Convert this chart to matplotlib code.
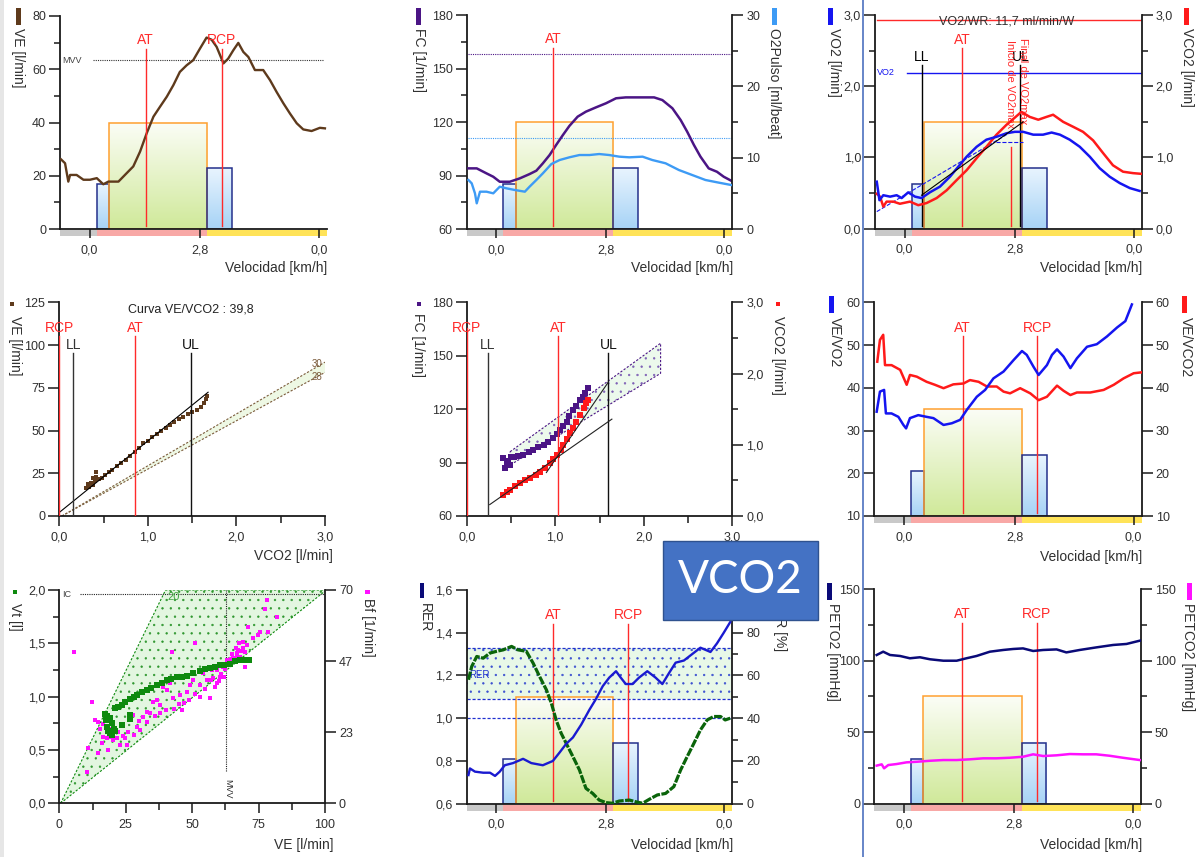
import matplotlib
matplotlib.use("Agg")
import matplotlib.pyplot as plt
import matplotlib.transforms as mtrans
from matplotlib.patches import Rectangle, Polygon
from matplotlib.colors import LinearSegmentedColormap
import numpy as np

plt.rcParams['font.family'] = ['Liberation Sans', 'DejaVu Sans']
plt.rcParams['hatch.linewidth'] = 0.45

# ---------------- data ----------------
time_ticks = [0.0, 3.72, 7.73]
time_tick_labels = ['0,0', '2,8', '0,0']
phase_edges = [-1.0, 0.24, 3.97, 8.0]
stage_edges = [0.24, 0.66, 3.97, 4.81]
stage_heights = [0.21, 0.50, 0.285]

# Panel 1: VE
ve_t = [-0.97,-0.83,-0.72,-0.66,-0.44,-0.21,0.01,0.24,0.46,0.63,0.97,1.25,1.47,1.70,1.92,2.15,2.37,2.60,2.82,3.04,
        3.27,3.49,3.72,3.94,4.11,4.28,4.51,4.67,4.84,5.01,5.18,5.35,5.57,5.85,6.08,6.30,6.53,6.75,6.98,7.20,7.48,7.76,7.93]
ve = [26.2,24.7,17.8,20.3,20.3,18.5,18.5,19.1,16.8,17.8,17.8,21.0,23.5,29.1,35.9,42.2,45.9,49.7,54.0,59.0,
      61.5,63.4,67.8,71.9,71.1,68.4,62.2,64.0,67.1,69.9,66.5,64.6,59.7,59.7,55.9,51.5,47.2,43.4,39.7,37.4,36.8,38.0,37.8]
mvv_value = 63.3

# Panel 2: FC and O2 pulse
fc_t = [-0.94,-0.66,-0.33,-0.10,0.12,0.46,0.80,1.13,1.36,1.58,1.81,2.03,2.26,2.48,2.76,3.04,3.38,3.72,4.06,4.39,
        4.84,5.35,5.63,5.97,6.25,6.47,6.70,6.92,7.20,7.48,7.71,7.96]
fc = [94.0,94.0,91.2,89.3,86.5,86.5,88.4,90.8,92.7,96.8,101.5,107.1,112.7,117.8,123.0,125.8,128.2,130.5,133.3,133.8,
      133.8,133.8,132.3,127.7,121.1,114.6,107.1,100.6,94.0,92.1,89.3,87.1]
o2p_t = [-0.94,-0.83,-0.72,-0.66,-0.55,-0.33,-0.10,0.12,0.35,0.63,0.97,1.13,1.36,1.58,1.87,2.15,2.48,2.82,3.16,3.49,
         3.83,4.17,4.51,4.96,5.29,5.74,6.19,6.64,7.09,7.54,7.96]
o2p = [6.87,6.40,5.0,3.6,5.23,5.23,5.0,5.93,5.70,5.47,5.23,5.93,6.87,7.80,9.11,9.67,10.05,10.37,10.37,10.51,
       10.37,10.14,10.05,10.14,9.67,9.21,8.27,7.57,6.87,6.50,6.17]
fc_ref = 157.9
o2p_ref = 110.8

# Panel 3: VO2 / VCO2
vo2_t = [-0.94,-0.85,-0.72,-0.49,-0.27,-0.10,0.12,0.35,0.57,0.85,1.19,1.53,1.81,2.09,2.43,2.76,3.10,3.44,3.72,4.00,
         4.34,4.67,4.96,5.24,5.57,5.91,6.25,6.58,6.92,7.26,7.60,7.93]
vo2 = [0.66,0.40,0.47,0.45,0.47,0.43,0.51,0.45,0.43,0.51,0.59,0.73,0.87,1.01,1.15,1.25,1.29,1.34,1.36,1.36,
       1.32,1.32,1.35,1.32,1.25,1.15,1.01,0.85,0.73,0.64,0.57,0.53]
vco2_t = [-0.94,-0.83,-0.72,-0.61,-0.38,-0.16,0.18,0.46,0.74,1.08,1.42,1.75,2.09,2.43,2.76,3.10,3.44,3.72,3.94,4.22,
          4.51,4.79,5.01,5.35,5.69,6.02,6.36,6.70,7.03,7.37,7.71,7.99]
vco2 = [0.49,0.45,0.31,0.38,0.38,0.35,0.38,0.33,0.36,0.43,0.54,0.68,0.82,0.99,1.15,1.32,1.46,1.56,1.64,1.57,
        1.53,1.57,1.60,1.50,1.43,1.36,1.24,1.06,0.89,0.80,0.78,0.77]
vo2_pred = 2.19
wr_line = 2.93

# Panel 4: VE vs VCO2
p4_vco2 = [0.30,0.32,0.34,0.36,0.38,0.38,0.40,0.40,0.42,0.42,0.45,0.48,0.52,0.56,0.60,0.65,0.70,0.75,0.80,0.85,
           0.90,0.95,1.00,1.05,1.10,1.15,1.20,1.25,1.30,1.35,1.40,1.45,1.50,1.55,1.60,1.63,1.66,1.67]
p4_ve = [16.5,18.5,17.0,19.5,18.0,22.5,20.5,22.5,23.0,25.5,21.5,22.5,24.0,25.5,27.0,29.0,31.0,33.0,35.0,37.5,
         39.5,42.5,44.0,46.0,48.0,50.0,51.5,53.5,55.0,56.5,58.0,59.5,61.0,62.0,64.0,66.0,68.5,70.0]

# Panel 5: FC and VCO2 vs VO2
p5_x_fc = [0.43,0.45,0.41,0.47,0.49,0.50,0.53,0.58,0.64,0.70,0.75,0.80,0.87,0.92,0.98,1.02,1.05,1.09,1.13,1.16,
           1.20,1.24,1.28,1.31,1.34,1.37]
p5_fc = [86.8,89.0,92.4,91.0,88.6,93.0,93.3,93.8,94.3,95.8,97.1,98.5,99.9,101.5,103.6,106.0,108.3,110.5,113.0,116.0,
         119.5,122.0,125.1,127.0,128.9,131.7]
p5_x_vco2 = [0.41,0.45,0.49,0.55,0.60,0.66,0.72,0.78,0.83,0.89,0.94,0.98,1.02,1.06,1.09,1.13,1.17,1.20,1.24,1.28,
             1.32,1.35,1.37]
p5_vco2 = [0.29,0.33,0.37,0.42,0.46,0.50,0.53,0.58,0.62,0.68,0.74,0.80,0.86,0.93,1.00,1.08,1.16,1.24,1.32,1.42,
           1.51,1.58,1.63]

# Panel 6: ventilatory equivalents
eqo2_t = [-0.92,-0.81,-0.67,-0.61,-0.42,-0.19,-0.02,0.07,0.20,0.48,0.76,0.99,1.33,1.61,1.89,2.11,2.45,2.73,3.01,3.35,
          3.69,3.97,4.13,4.36,4.53,4.81,4.98,5.15,5.37,5.60,5.82,6.16,6.49,6.83,7.17,7.45,7.67]
eqo2 = [34.4,39.1,39.5,34.0,34.0,33.2,31.3,30.5,32.9,33.6,33.2,32.9,31.3,31.7,32.5,34.8,37.9,39.5,42.2,43.8,
        46.5,48.6,47.7,44.9,43.0,45.3,47.7,49.0,47.3,44.6,46.9,49.6,50.2,52.0,54.1,55.6,59.5]
eqco2_t = [-0.90,-0.81,-0.70,-0.64,-0.42,-0.13,0.09,0.20,0.43,0.76,1.04,1.33,1.66,2.00,2.22,2.51,2.79,3.12,3.35,3.57,
           3.91,4.25,4.53,4.81,5.15,5.37,5.60,5.82,6.27,6.72,7.06,7.39,7.73,7.98]
eqco2 = [46.1,51.2,52.4,45.3,45.3,44.2,40.7,43.0,42.6,41.4,40.7,39.9,40.8,41.0,41.8,41.4,40.3,40.3,39.1,38.7,
         39.9,38.7,37.1,37.9,40.5,39.3,38.3,38.9,38.9,39.5,40.7,42.2,43.4,43.6]

# Panel 7: Vt and Bf vs VE
vt_ve = [17.2,17.5,17.8,18.5,19.1,19.7,20.5,21.0,19.0,18.0,22.0,23.5,24.7,26.6,28.0,29.1,31.0,32.9,34.5,36.6,
         38.5,40.4,42.0,44.2,46.0,47.9,50.4,52.9,55.0,56.7,58.5,60.5,62.0,64.2,66.0,68.0,70.0,71.5,23.5,26.6,
         26.6,20.0,21.0]
vt = [0.84,0.78,0.72,0.68,0.66,0.75,0.70,0.89,0.80,0.82,0.90,0.92,0.95,0.98,1.00,1.02,1.04,1.06,1.08,1.11,
      1.13,1.16,1.17,1.18,1.18,1.19,1.22,1.24,1.26,1.27,1.28,1.30,1.30,1.31,1.33,1.34,1.34,1.34,0.73,0.83,
      0.79,0.64,0.68]
bf_ve = [5.5,12.2,10.9,10.3,13.4,14.7,15.3,15.9,14.7,16.6,17.8,19.1,20.3,21.6,22.8,24.7,25.3,27.9,29.1,30.4,
         31.6,32.9,34.1,35.4,36.6,37.9,39.1,40.4,41.7,42.3,42.9,45.4,46.0,47.9,49.2,50.4,51.1,52.9,54.2,55.5,
         56.7,57.3,58.6,59.2,60.5,61.7,63.0,64.2,65.5,66.7,67.4,68.0,69.3,70.5,69.9,71.1,73.0,74.9,75.5,77.4,
         78.0,78.7,81.8,61.0,62.5,63.5,64.8,66.0,67.0,68.5,60.0,58.0,57.0,62.0,59.5,65.0,66.5,67.8,69.0,70.0,
         55.0,53.0,51.0,49.0,47.0,45.0,43.0,40.0,38.0,36.0,33.0,30.0,28.0,26.0,24.0,22.0,20.0,18.5,16.5]
bf = [49.8,33.4,18.0,10.4,27.3,26.8,24.3,19.7,16.4,21.9,21.3,21.9,20.8,21.3,19.1,21.3,19.1,29.0,25.2,24.1,
      28.4,26.8,29.5,33.4,33.9,32.3,38.3,37.2,39.4,49.8,34.5,35.5,30.6,36.6,38.8,40.5,52.5,38.8,42.7,40.5,
      34.5,43.8,38.3,43.8,41.6,44.8,47.0,45.4,47.6,49.2,50.3,48.1,50.9,51.9,44.8,58.0,54.1,55.2,56.3,63.7,
      66.7,56.3,61.3,42.5,44.0,46.0,47.5,46.5,48.5,50.0,40.0,41.0,40.5,41.5,39.5,49.0,51.0,52.5,53.0,49.5,
      37.5,35.0,36.0,34.0,33.0,32.5,31.0,30.5,29.5,28.5,30.0,27.0,22.5,23.5,22.0,23.5,24.5,17.5,26.0]
ic_value = 1.96
mvv_ve = 62.7

# Panel 8: RER and BR
rer_t = [-0.94,-0.89,-0.72,-0.44,-0.21,-0.04,0.12,0.29,0.57,0.91,1.19,1.58,1.92,2.15,2.37,2.60,2.88,3.16,3.38,3.61,
         3.83,4.06,4.22,4.39,4.62,4.84,5.12,5.40,5.63,5.85,6.08,6.36,6.64,6.92,7.26,7.48,7.71,7.93]
rer = [0.734,0.765,0.75,0.745,0.745,0.73,0.75,0.78,0.79,0.81,0.79,0.78,0.80,0.84,0.88,0.91,0.97,1.04,1.09,1.15,
       1.19,1.22,1.19,1.16,1.16,1.19,1.22,1.19,1.16,1.21,1.26,1.27,1.30,1.33,1.31,1.35,1.40,1.45]
br_t = [-0.94,-0.83,-0.66,-0.44,-0.21,0.01,0.24,0.52,0.74,1.02,1.25,1.47,1.70,1.87,2.03,2.20,2.37,2.60,2.82,3.04,
        3.27,3.49,3.72,3.94,4.17,4.51,4.73,4.96,5.18,5.46,5.74,6.02,6.25,6.47,6.70,6.92,7.15,7.37,7.60,7.76,7.93]
br = [58.0,64.2,68.9,68.1,70.5,71.3,72.0,73.6,72.0,71.3,65.8,59.5,53.3,47.0,39.2,33.0,28.3,22.0,15.8,7.2,
      4.8,1.7,0.5,0.2,1.25,1.7,0.9,0.2,2.0,4.1,4.8,8.0,15.8,22.0,28.3,34.5,39.2,40.8,40.8,39.2,40.0]
rer_band = [1.09, 1.33]

# Panel 9: end-tidal pressures
peto2_t = [-0.92,-0.70,-0.47,-0.13,0.20,0.54,0.88,1.33,1.78,2.11,2.45,2.90,3.35,3.69,4.02,4.36,4.70,5.15,5.48,5.93,
           6.49,7.06,7.51,7.96]
peto2 = [103.9,106.2,103.9,103.2,101.6,102.3,100.9,99.9,99.9,101.6,103.2,106.2,107.4,108.1,108.5,106.7,107.4,107.8,105.7,107.4,
         109.2,110.9,111.6,113.9]
petco2_t = [-0.92,-0.75,-0.67,-0.53,-0.25,0.09,0.43,0.88,1.33,1.78,2.22,2.67,3.12,3.57,4.02,4.36,4.70,5.15,5.60,6.04,
            6.49,6.94,7.39,7.96]
petco2 = [26.6,27.5,24.7,27.0,27.7,28.9,29.3,30.0,30.5,30.5,31.0,31.7,31.7,32.1,32.8,34.5,33.3,33.8,34.7,34.5,
          34.5,33.5,32.1,30.5]

# ---------------- style ----------------
W, H = 1204, 857
fig = plt.figure(figsize=(W / 100, H / 100), dpi=100)
TXT = '#303030'
SP = '#1a1a1a'
RED = '#FF2A2A'
BROWN = '#5E3A1C'
PURPLE = '#4B1585'
LBLUE = '#3D9BF5'
BLUE = '#1515F0'
NAVY = '#0A0A78'
GREEN = '#0E8A0E'
DGREEN = '#0A640A'
MAG = '#FF10FF'
phase_colors = ['#C9C9C9', '#F8A8A6', '#FFE358']
grad = np.linspace(0, 1, 64).reshape(-1, 1)
cmap_green = LinearSegmentedColormap.from_list('g', ['#FBFDF6', '#D0E99A'])
cmap_blue = LinearSegmentedColormap.from_list('b', ['#E8F4FE', '#A7D3F6'])


def add_ax(L, R, T, B):
    return fig.add_axes([L / W, 1 - B / H, (R - L) / W, (B - T) / H])


def blend(ax):
    return mtrans.blended_transform_factory(ax.transData, ax.transAxes)


def spines(ax, left=True, right=False, bottom=True):
    ax.spines['top'].set_visible(False)
    ax.spines['left'].set_visible(left)
    ax.spines['right'].set_visible(right)
    ax.spines['bottom'].set_visible(bottom)
    for s in ax.spines.values():
        s.set_linewidth(1.3)
        s.set_color(SP)


def yaxis(ax, ylim, major, labels, minor=None):
    ax.set_ylim(*ylim)
    ax.set_yticks(major)
    ax.set_yticklabels(labels)
    if minor is not None:
        ax.set_yticks(minor, minor=True)
    ax.tick_params(axis='y', which='major', length=8, width=1.1, labelsize=9, pad=2,
                   color=SP, labelcolor=TXT)
    ax.tick_params(axis='y', which='minor', length=4.5, width=1.1, color=SP)


def time_decor(ax, ylim):
    tr = blend(ax)
    for i in range(3):
        ax.add_patch(Rectangle((phase_edges[i], -0.033), phase_edges[i + 1] - phase_edges[i], 0.028,
                               transform=tr, facecolor=phase_colors[i], lw=0, clip_on=False, zorder=0.5))
    y0, y1 = ylim
    cms = [cmap_blue, cmap_green, cmap_blue]
    ecs = ['#24308C', '#FFA030', '#24308C']
    for i in range(3):
        xa, xb = stage_edges[i], stage_edges[i + 1]
        top = y0 + stage_heights[i] * (y1 - y0)
        ax.imshow(grad, extent=(xa, xb, y0, top), aspect='auto', cmap=cms[i], origin='upper',
                  zorder=1, interpolation='bilinear')
        ax.add_patch(Rectangle((xa, y0), xb - xa, top - y0, fill=False, edgecolor=ecs[i], lw=1.1, zorder=1.5))
    ax.set_xlim(-1, 8)
    ax.set_ylim(*ylim)
    ax.set_xticks(time_ticks)
    ax.set_xticklabels(time_tick_labels)
    ax.tick_params(axis='x', length=6.5, width=1.1, pad=4.5, labelsize=9, color=SP, labelcolor=TXT)


def vmark(ax, x, label, color, line_top, text_y, bottom=0.012, lw=1.0):
    tr = blend(ax)
    ax.plot([x, x], [bottom, line_top], transform=tr, color=color, lw=lw, zorder=6)
    ax.text(x, text_y, label, transform=tr, color=color, ha='center', va='center', fontsize=10, zorder=7)


def ylab(x, ytop, s, fs=10, color=TXT):
    fig.text(x / W, 1 - ytop / H, s, rotation=270, ha='center', va='top', fontsize=fs, color=color)


def xlab(xr, yc, s):
    fig.text(xr / W, 1 - yc / H, s, ha='right', va='center', fontsize=10, color=TXT)


def mark(x0, y0, x1, y1, color):
    fig.add_artist(Rectangle((x0 / W, 1 - y1 / H), (x1 - x0) / W, (y1 - y0) / H,
                             transform=fig.transFigure, facecolor=color, lw=0))


def comma(vals, fmt='{:.1f}'):
    return [fmt.format(v).replace('.', ',') for v in vals]


def dotted_region(ax, verts, face, dot, edge, lw=0.8):
    ax.add_patch(Polygon(verts, closed=True, facecolor=face, edgecolor='none', zorder=1))
    ax.add_patch(Polygon(verts, closed=True, fill=False, hatch='..', edgecolor=dot, lw=0, zorder=1.2))
    ax.add_patch(Polygon(verts, closed=True, fill=False, edgecolor=edge, lw=lw, ls=(0, (2, 1.5)), zorder=1.4))


# ---------------- Panel 1 ----------------
ax = add_ax(60, 327, 16, 229)
spines(ax)
yaxis(ax, (0, 80), [0, 20, 40, 60, 80], ['0', '20', '40', '60', '80'], [10, 30, 50, 70])
time_decor(ax, (0, 80))
ax.plot(ve_t, ve, color=BROWN, lw=1.7, zorder=4)
ax.plot([0.10, 7.88], [mvv_value, mvv_value], color='#333', lw=0.8, ls=(0, (1, 1)), zorder=3)
ax.text(-0.94, mvv_value, 'MVV', fontsize=6.5, color='#444', va='center', ha='left')
vmark(ax, 1.89, 'AT', RED, 0.845, 0.886)
vmark(ax, 4.45, 'RCP', RED, 0.845, 0.886)

# ---------------- Panel 2 ----------------
ax = add_ax(466.7, 732.3, 15, 229)
spines(ax)
yaxis(ax, (60, 180), [60, 90, 120, 150, 180], ['60', '90', '120', '150', '180'], [75, 105, 135, 165])
time_decor(ax, (60, 180))
ax.plot([-0.94, 7.96], [fc_ref, fc_ref], color=PURPLE, lw=0.8, ls=(0, (1, 1)), zorder=3)
ax.plot([-0.94, 7.96], [o2p_ref, o2p_ref], color=LBLUE, lw=0.8, ls=(0, (1, 1)), zorder=3)
vmark(ax, 1.92, 'AT', RED, 0.845, 0.886)
ax.plot(fc_t, fc, color=PURPLE, lw=1.8, zorder=5)
tw = ax.twinx()
spines(tw, left=False, right=True, bottom=False)
yaxis(tw, (0, 30), [0, 10, 20, 30], ['0', '10', '20', '30'], [5, 15, 25])
tw.plot(o2p_t, o2p, color=LBLUE, lw=1.7, zorder=4)

# ---------------- Panel 3 ----------------
ax = add_ax(875, 1141.7, 15, 228.7)
spines(ax)
yaxis(ax, (0, 3), [0, 1, 2, 3], comma([0, 1, 2, 3]), [0.5, 1.5, 2.5])
time_decor(ax, (0, 3))
ax.plot([-0.94, 7.99], [wr_line, wr_line], color=RED, lw=1.0, zorder=3)
ax.text(3.44, 2.91, 'VO2/WR: 11,7 ml/min/W', fontsize=9, color=TXT, ha='center', va='center', zorder=4)
ax.plot([0.07, 7.99], [vo2_pred, vo2_pred], color=BLUE, lw=1.0, zorder=3)
ax.text(-0.93, vo2_pred, 'VO2', fontsize=6.5, color=BLUE, ha='left', va='center')
vmark(ax, 0.57, 'LL', 'black', 0.766, 0.805)
vmark(ax, 1.94, 'AT', RED, 0.845, 0.883)
vmark(ax, 3.91, 'UL', 'black', 0.766, 0.805)
tr = blend(ax)
ax.plot([3.58, 3.58], [0.012, 0.383], transform=tr, color=RED, lw=1.0, zorder=6)
ax.text(3.55, 0.883, 'Inicio de VO2max', transform=tr, rotation=270, color=RED, fontsize=8,
        ha='center', va='top', zorder=7)
ax.text(3.99, 0.892, 'Final de VO2max', transform=tr, rotation=270, color=RED, fontsize=8,
        ha='center', va='top', zorder=7)
tw = ax.twinx()
spines(tw, left=False, right=True, bottom=False)
yaxis(tw, (0, 3), [0, 1, 2, 3], comma([0, 1, 2, 3]), [0.5, 1.5, 2.5])
tw.plot([-0.94, 3.6], [0.24, 1.36], color=BLUE, lw=0.8, ls='--', zorder=3)
tw.plot([3.1, 3.98], [1.22, 1.22], color=BLUE, lw=0.8, ls='--', zorder=3)
tw.plot(vco2_t, vco2, color='#FF1A1A', lw=1.8, zorder=4)
tw.plot(vo2_t, vo2, color=BLUE, lw=1.8, zorder=5)
tw.plot([0.57, 4.0], [0.47, 1.50], color='black', lw=0.8, zorder=6)

# ---------------- Panel 4 ----------------
ax = add_ax(59.3, 325, 302.3, 516)
spines(ax)
ax.set_xlim(0, 3)
ax.set_xticks([0, 1, 2, 3])
ax.set_xticklabels(comma([0, 1, 2, 3]))
ax.set_xticks([0.5, 1.5, 2.5], minor=True)
ax.tick_params(axis='x', which='major', length=7, width=1.1, pad=4, labelsize=9, color=SP, labelcolor=TXT)
ax.tick_params(axis='x', which='minor', length=5, width=1.1, color=SP)
yaxis(ax, (0, 125), [0, 25, 50, 75, 100, 125], ['0', '25', '50', '75', '100', '125'])
ax.add_patch(Polygon([(0.03, 0), (3.0, 90), (3.0, 84)], closed=True, facecolor='#EEF8E4', edgecolor='none', zorder=1))
ax.plot([0.03, 3.0], [0, 90], color='#7A5A3A', lw=0.8, ls=(0, (2, 1.5)), zorder=2)
ax.plot([0.03, 3.0], [0, 84], color='#7A5A3A', lw=0.8, ls=(0, (2, 1.5)), zorder=2)
ax.text(2.97, 89, '30', fontsize=7, color='#7A5A3A', ha='right', va='center')
ax.text(2.97, 81.5, '28', fontsize=7, color='#7A5A3A', ha='right', va='center')
vmark(ax, 0.0, 'RCP', RED, 0.84, 0.881, bottom=0)
vmark(ax, 0.16, 'LL', '#333', 0.761, 0.80, bottom=0)
vmark(ax, 0.86, 'AT', RED, 0.84, 0.881, bottom=0)
vmark(ax, 1.49, 'UL', '#111', 0.761, 0.80, bottom=0)
ax.scatter(p4_vco2, p4_ve, marker='s', s=12, color=BROWN, lw=0, zorder=4)
ax.plot([0.01, 1.68], [2.5, 72.4], color='black', lw=0.8, zorder=5)
ax.text(1.49, 121, 'Curva VE/VCO2 : 39,8', fontsize=9, color='#222', ha='center', va='center', clip_on=False)

# ---------------- Panel 5 ----------------
ax = add_ax(466.7, 732.3, 302.3, 516)
spines(ax)
ax.set_xlim(0, 3)
ax.set_xticks([0, 1, 2, 3])
ax.set_xticklabels(comma([0, 1, 2, 3]))
ax.set_xticks([0.5, 1.5, 2.5], minor=True)
ax.tick_params(axis='x', which='major', length=7, width=1.1, pad=4, labelsize=9, color=SP, labelcolor=TXT)
ax.tick_params(axis='x', which='minor', length=5, width=1.1, color=SP)
yaxis(ax, (60, 180), [60, 90, 120, 150, 180], ['60', '90', '120', '150', '180'])
band5 = [(0.49, 96.1), (2.19, 157.0), (2.19, 140.1), (0.49, 88.6)]
dotted_region(ax, band5, '#ECF9EC', '#7D5FB5', PURPLE)
vmark(ax, 0.0, 'RCP', RED, 0.88, 0.88, bottom=0)
vmark(ax, 0.24, 'LL', '#333', 0.761, 0.80, bottom=0)
vmark(ax, 1.03, 'AT', RED, 0.84, 0.88, bottom=0)
vmark(ax, 1.60, 'UL', '#111', 0.761, 0.80, bottom=0)
ax.scatter(p5_x_fc, p5_fc, marker='s', s=14, color=PURPLE, lw=0, zorder=4)
tw = ax.twinx()
spines(tw, left=False, right=True, bottom=False)
yaxis(tw, (0, 3), [0, 1, 2, 3], comma([0, 1, 2, 3]), [0.5, 1.5, 2.5])
tw.scatter(p5_x_vco2, p5_vco2, marker='s', s=14, color='#FF1A1A', lw=0, zorder=4)
tw.plot([0.26, 1.64], [0.16, 1.36], color='#222', lw=0.8, zorder=5)
tw.plot([0.90, 1.60], [0.61, 1.88], color='#222', lw=0.8, zorder=5)

# ---------------- Panel 6 ----------------
ax = add_ax(874.3, 1141.7, 302.3, 516)
spines(ax)
yaxis(ax, (10, 60), [10, 20, 30, 40, 50, 60], ['10', '20', '30', '40', '50', '60'])
time_decor(ax, (10, 60))
vmark(ax, 1.97, 'AT', RED, 0.84, 0.88)
vmark(ax, 4.49, 'RCP', RED, 0.84, 0.88)
tw = ax.twinx()
spines(tw, left=False, right=True, bottom=False)
yaxis(tw, (10, 60), [10, 20, 30, 40, 50, 60], ['10', '20', '30', '40', '50', '60'])
tw.plot(eqco2_t, eqco2, color='#FF1A1A', lw=1.8, zorder=4)
tw.plot(eqo2_t, eqo2, color=BLUE, lw=1.8, zorder=5)

# ---------------- Panel 7 ----------------
ax = add_ax(59.3, 325, 590, 803.3)
spines(ax)
ax.set_xlim(0, 100)
ax.set_xticks([0, 25, 50, 75, 100])
ax.set_xticks([12.5, 37.5, 62.5, 87.5], minor=True)
ax.tick_params(axis='x', which='major', length=7, width=1.1, pad=4, labelsize=9, color=SP, labelcolor=TXT)
ax.tick_params(axis='x', which='minor', length=5, width=1.1, color=SP)
yaxis(ax, (0, 2), [0, 0.5, 1, 1.5, 2], comma([0, 0.5, 1, 1.5, 2]), [0.25, 0.75, 1.25, 1.75])
tri = [(0.5, 0.0), (40.0, 2.0), (100.0, 2.0), (100.0, 1.99)]
dotted_region(ax, tri, '#E3F6E0', '#2E962E', GREEN)
ax.plot([7.8, 100], [ic_value, ic_value], color='#222', lw=0.8, ls=(0, (1, 1)), zorder=2)
ax.text(0.9, ic_value - 0.005, 'IC', fontsize=6.5, color='#444', ha='left', va='center')
ax.plot([mvv_ve, mvv_ve], [0.30, 2.0], color='#222', lw=0.8, ls=(0, (1, 1)), zorder=2)
ax.text(mvv_ve + 0.6, 0.23, 'MVV', rotation=270, fontsize=6.5, color='#333', ha='center', va='top')
ax.text(43, 1.93, '20', fontsize=8, color='#3FA53F', ha='center', va='center')
tw = ax.twinx()
spines(tw, left=False, right=True, bottom=False)
yaxis(tw, (0, 70), [0, 70 / 3, 140 / 3, 70], ['0', '23', '47', '70'])
tw.scatter(bf_ve, bf, marker='s', s=5, color=MAG, lw=0, zorder=4)
tw.scatter(vt_ve, [v * 35 for v in vt], marker='s', s=13, color=GREEN, lw=0, zorder=5)

# ---------------- Panel 8 ----------------
ax = add_ax(466.7, 732.3, 590, 803.7)
spines(ax)
yaxis(ax, (0.6, 1.6), [0.6, 0.8, 1.0, 1.2, 1.4, 1.6], comma([0.6, 0.8, 1.0, 1.2, 1.4, 1.6]))
time_decor(ax, (0.6, 1.6))
ax.add_patch(Rectangle((-1, rer_band[0]), 9, rer_band[1] - rer_band[0], facecolor='#E8F8E8', edgecolor='none', zorder=0.8))
ax.add_patch(Rectangle((-1, rer_band[0]), 9, rer_band[1] - rer_band[0], fill=False, hatch='..',
                       edgecolor='#3A4FD0', lw=0, zorder=0.9))
for yv in [rer_band[0], rer_band[1], 1.0]:
    ax.plot([-1, 8], [yv, yv], color='#2030D0', lw=0.9, ls=(0, (2.5, 1.5)), zorder=2)
ax.text(-0.92, 1.2, 'RER', fontsize=7, color='#2030D0', ha='left', va='center', zorder=3)
vmark(ax, 1.92, 'AT', RED, 0.84, 0.883)
vmark(ax, 4.47, 'RCP', RED, 0.84, 0.883)
tw = ax.twinx()
spines(tw, left=False, right=True, bottom=False)
yaxis(tw, (0, 100), [0, 20, 40, 60, 80], ['0', '20', '40', '60', '80'], [10, 30, 50, 70, 90])
tw.plot(br_t, br, color=DGREEN, lw=2.3, ls=(0, (2.6, 0.45)), zorder=4)
tw.plot(rer_t, [(v - 0.6) * 100 for v in rer], color='#1A1AD0', lw=1.7, zorder=5)

# ---------------- Panel 9 ----------------
ax = add_ax(874.3, 1141, 589, 803.7)
spines(ax)
yaxis(ax, (0, 150), [0, 50, 100, 150], ['0', '50', '100', '150'], [25, 75, 125])
time_decor(ax, (0, 150))
vmark(ax, 1.97, 'AT', RED, 0.84, 0.883)
vmark(ax, 4.49, 'RCP', RED, 0.84, 0.883)
tw = ax.twinx()
spines(tw, left=False, right=True, bottom=False)
yaxis(tw, (0, 150), [0, 50, 100, 150], ['0', '50', '100', '150'], [25, 75, 125])
tw.plot(petco2_t, petco2, color=MAG, lw=1.8, zorder=4)
tw.plot(peto2_t, peto2, color=NAVY, lw=1.8, zorder=5)

# ---------------- figure-level labels ----------------
# row 1
mark(16, 8, 21, 25, BROWN); ylab(18, 28, 'VE [l/min]')
mark(416, 8, 421, 25, PURPLE); ylab(418.5, 28, 'FC [1/min]')
mark(772, 8, 777, 25, LBLUE); ylab(774, 28, 'O2Pulso [ml/beat]')
mark(828, 8, 833, 25, BLUE); ylab(834, 28, 'VO2 [l/min]')
mark(1184, 8, 1189, 25, '#FF1A1A'); ylab(1187, 28, 'VCO2 [l/min]')
xlab(327, 268, 'Velocidad [km/h]')
xlab(733, 268, 'Velocidad [km/h]')
xlab(1142, 268, 'Velocidad [km/h]')
# row 2
mark(10, 302, 14, 306, BROWN); ylab(15, 316, 'VE [l/min]')
mark(417, 302, 421, 306, PURPLE); ylab(418, 313, 'FC [1/min]')
mark(776, 302, 780, 306, '#FF1A1A'); ylab(778, 316, 'VCO2 [l/min]')
mark(829, 296, 834, 313, BLUE); ylab(835, 317, 'VE/VO2')
mark(1182, 296, 1187, 313, '#FF1A1A'); ylab(1186, 317, 'VE/VCO2')
xlab(333, 556, 'VCO2 [l/min]')
xlab(1142, 557, 'Velocidad [km/h]')
# row 3
mark(13, 590, 17, 594, GREEN); ylab(15, 603, 'Vt [l]')
mark(365, 590, 370, 594, MAG); ylab(368, 598, 'Bf [1/min]')
mark(420, 583, 424, 598, NAVY); ylab(425, 603, 'RER')
ylab(780, 608, 'BR [%]')
mark(827, 583, 832, 600, NAVY); ylab(833, 603, 'PETO2 [mmHg]')
mark(1187, 583, 1192, 600, MAG); ylab(1188, 603, 'PETCO2 [mmHg]')
xlab(333, 845, 'VE [l/min]')
xlab(733, 845, 'Velocidad [km/h]')
xlab(1142, 845, 'Velocidad [km/h]')

# frame decorations
mark(0, 0, 4, 857, '#E6E6E6')
fig.add_artist(plt.Line2D([863 / W, 863 / W], [0, 1], transform=fig.transFigure, color='#5A7CC4', lw=1.3))

# overlay box
box = Rectangle((663 / W, 1 - 620 / H), 155 / W, 79 / H, transform=fig.transFigure,
                facecolor='#4472C4', edgecolor='#2F528F', lw=1.0, zorder=20)
fig.add_artist(box)
fig.text(740.5 / W, 1 - 580 / H, 'VCO2', fontsize=33, color='white', ha='center', va='center',
         family=['Lato', 'DejaVu Sans'], zorder=21)

fig.savefig('out.png', dpi=100)
